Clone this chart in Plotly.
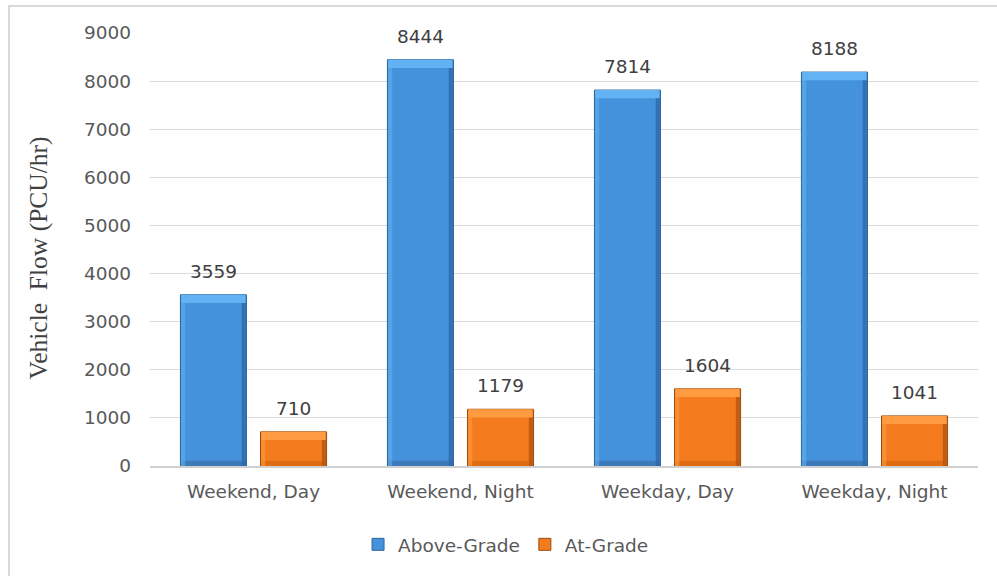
import plotly.graph_objects as go

# Vehicle flow by period and road level
categories = ["Weekend, Day", "Weekend, Night", "Weekday, Day", "Weekday, Night"]
above_grade = [3559, 8444, 7814, 8188]
at_grade = [710, 1179, 1604, 1041]
y_ticks = [0, 1000, 2000, 3000, 4000, 5000, 6000, 7000, 8000, 9000]

FONT = "DejaVu Sans"
TICK_COLOR = "#595959"

BAR_W = 0.319          # bar width in category units
BLUE_OFF = -0.353      # left edge of the first bar relative to category centre
ORANGE_OFF = 0.034     # left edge of the second bar
EDGE = 0.02            # width of the side highlight / shadow strips
CAP = 170              # height of the bevelled top, in data units
FOOT = 110             # height of the darker base band

series = [
    dict(name="Above-Grade", values=above_grade, off=BLUE_OFF,
         main="#4592dc", light="#63b2f3", dark="#2d69a8", base="#3c7aba", line="#2f6399"),
    dict(name="At-Grade", values=at_grade, off=ORANGE_OFF,
         main="#f47c1e", light="#ff9c42", dark="#b45510", base="#e06c12", line="#9a4a0e"),
]

fig = go.Figure()

for s in series:
    vals = s["values"]
    # body of the bar
    fig.add_trace(go.Bar(
        x=categories, y=vals, name=s["name"], offset=s["off"], width=BAR_W,
        marker=dict(color=s["main"], line=dict(color=s["line"], width=1)),
        showlegend=True, legendgroup=s["name"],
    ))
    # darker band along the base
    fig.add_trace(go.Bar(
        x=categories, y=[FOOT] * len(vals), base=[0] * len(vals),
        offset=s["off"] + 0.004, width=BAR_W - 0.008,
        marker=dict(color=s["base"], line=dict(width=0)),
        showlegend=False, legendgroup=s["name"], hoverinfo="skip",
    ))
    # left highlight
    fig.add_trace(go.Bar(
        x=categories, y=vals, offset=s["off"] + 0.003, width=EDGE,
        marker=dict(color=s["light"], opacity=0.55, line=dict(width=0)),
        showlegend=False, legendgroup=s["name"], hoverinfo="skip",
    ))
    # right shadow
    fig.add_trace(go.Bar(
        x=categories, y=vals, offset=s["off"] + BAR_W - EDGE - 0.003, width=EDGE,
        marker=dict(color=s["dark"], opacity=0.8, line=dict(width=0)),
        showlegend=False, legendgroup=s["name"], hoverinfo="skip",
    ))
    # bevelled top
    fig.add_trace(go.Bar(
        x=categories, y=[CAP] * len(vals), base=[v - CAP for v in vals],
        offset=s["off"] + 0.004, width=BAR_W - 0.008,
        marker=dict(color=s["light"], line=dict(width=0)),
        showlegend=False, legendgroup=s["name"], hoverinfo="skip",
    ))

# value labels above each bar
for s in series:
    shift = -40 if s["off"] < 0 else 40
    for c, v in zip(categories, s["values"]):
        fig.add_annotation(
            x=c, y=v, text=str(v), showarrow=False, xshift=shift, yshift=11,
            yanchor="bottom", font=dict(family=FONT, size=18.5, color="#404040"),
        )

# axis title
fig.add_annotation(
    xref="paper", yref="paper", x=-0.135, y=0.48, textangle=-90,
    xanchor="center", yanchor="middle",
    text="Vehicle\u00a0\u00a0Flow\u00a0(PCU/hr)", showarrow=False,
    font=dict(family="Liberation Serif", size=25.5, color="#404040"),
)

# chart frame
fig.add_shape(
    type="rect", xref="paper", yref="paper",
    x0=-0.1703, x1=1.04, y0=-0.28, y1=1.0624,
    line=dict(color="#d9d9d9", width=2), layer="below",
)

fig.update_layout(
    width=997, height=576,
    margin=dict(l=150, r=19, t=33, b=110),
    paper_bgcolor="white", plot_bgcolor="white",
    barmode="overlay",
    font=dict(family=FONT, size=18.5, color=TICK_COLOR),
    legend=dict(
        orientation="h", x=0.43, y=-0.182, xanchor="center", yanchor="middle",
        font=dict(family=FONT, size=18.5, color=TICK_COLOR),
        itemwidth=30, traceorder="normal",
    ),
    xaxis=dict(
        type="category", showgrid=False, ticks="", showline=True,
        linecolor="#d0d0d0", linewidth=1.5, ticklabelstandoff=8,
        tickfont=dict(family=FONT, size=18.5, color=TICK_COLOR),
    ),
    yaxis=dict(
        range=[0, 9000], tickvals=y_ticks, showgrid=True, gridcolor="#d9d9d9",
        gridwidth=1, zeroline=False, showline=False, ticks="",
        ticklabelstandoff=18,
        tickfont=dict(family=FONT, size=18.5, color=TICK_COLOR),
    ),
)

fig.write_html("out.html")
